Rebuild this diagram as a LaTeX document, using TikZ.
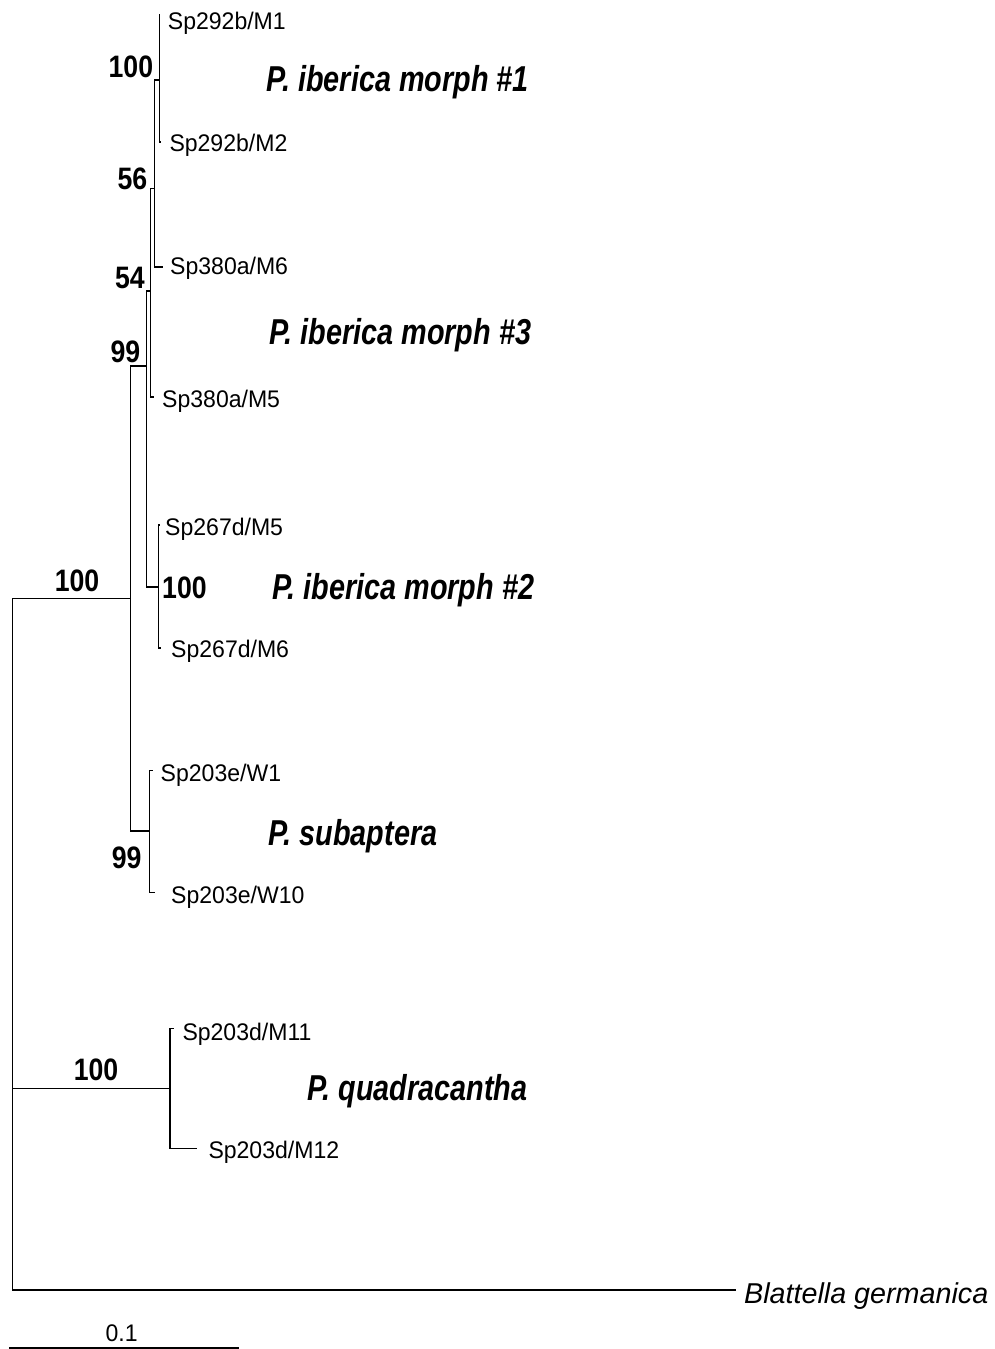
\documentclass[tikz,border=0pt]{standalone}
\usepackage{fontspec}
\setmainfont{Liberation Sans}
\newfontfamily\tipf{Liberation Sans}[FakeStretch=0.96]
\newfontfamily\bsf{Liberation Sans}[FakeStretch=0.86]
\newfontfamily\cladef{Liberation Sans}[FakeStretch=0.8]
\newfontfamily\outf{Liberation Sans}
\tikzset{
  tiplab/.style={anchor=base west, inner sep=0pt, font=\tipf\fontsize{24}{28}\selectfont},
  bootlab/.style={inner sep=0pt, font=\bsf\bfseries\fontsize{31}{36}\selectfont},
  cladelab/.style={anchor=base west, inner sep=0pt, font=\cladef\bfseries\itshape\fontsize{36}{42}\selectfont},
  branch/.style={line width=1.5pt, line join=miter}
}
\begin{document}
\begin{tikzpicture}[x=1pt,y=-1pt]
\useasboundingbox (0,0) rectangle (994,1349);
% tree coordinates
\coordinate (r1) at (12.3,598.3);
\coordinate (r2) at (12.3,1088.3);
\coordinate (r3) at (12.3,1290);
\coordinate (nI) at (130.7,598.3);
\coordinate (nQ) at (170,1088.3);
\coordinate (tB) at (736,1290);
\coordinate (nA) at (146.7,366);
\coordinate (nS) at (149.3,831);
\coordinate (n54) at (150.5,291);
\coordinate (n267) at (158.3,587);
\coordinate (n56) at (154.3,188.3);
\coordinate (tM5a) at (154.3,397);
\coordinate (n100) at (159.3,80);
\coordinate (tM6a) at (162.7,267);
\coordinate (tM1) at (160.3,15);
\coordinate (tM2) at (160.7,142);
\coordinate (tM5d) at (160.3,525);
\coordinate (tM6d) at (160.7,648);
\coordinate (tW1) at (152.7,770.7);
\coordinate (tW10) at (155,892.7);
\coordinate (tM11) at (174,1028.3);
\coordinate (tM12) at (196.7,1148.3);
% branches
\draw[branch] (r1) -- (nI);
\draw[branch] (r1) -- (r3) -- (tB);
\draw[branch] (r2) -- (nQ);
\draw[branch] (nI) |- (nA);
\draw[branch] (nI) |- (nS);
\draw[branch] (nA) |- (n54);
\draw[branch] (nA) |- (n267);
\draw[branch] (n54) |- (n56);
\draw[branch] (n54) |- (tM5a);
\draw[branch] (n56) |- (n100);
\draw[branch] (n56) |- (tM6a);
\draw[branch] (n100) |- (tM1);
\draw[branch] (n100) |- (tM2);
\draw[branch] (n267) |- (tM5d);
\draw[branch] (n267) |- (tM6d);
\draw[branch] (nS) |- (tW1);
\draw[branch] (nS) |- (tW10);
\draw[branch] (nQ) |- (tM11);
\draw[branch] (nQ) |- (tM12);
% tip labels
\node[tiplab] (l1) at (167.7,29.5) {Sp292b/M1};
\node[tiplab] (l2) at (169.3,151.5) {Sp292b/M2};
\node[tiplab] (l3) at (170,274) {Sp380a/M6};
\node[tiplab] (l4) at (162,407.5) {Sp380a/M5};
\node[tiplab] (l5) at (165,535.5) {Sp267d/M5};
\node[tiplab] (l6) at (171,657.5) {Sp267d/M6};
\node[tiplab] (l7) at (160.5,781.5) {Sp203e/W1};
\node[tiplab] (l8) at (171,903.5) {Sp203e/W10};
\node[tiplab] (l9) at (182.3,1040) {Sp203d/M11};
\node[tiplab] (l10) at (208.3,1158) {Sp203d/M12};
\node[anchor=base west, inner sep=0pt, font=\outf\itshape\fontsize{28.7}{34}\selectfont] (lB) at (744,1303) {Blattella germanica};
% bootstrap values
\node[bootlab, anchor=base east] (b1) at (153.3,77.3) {100};
\node[bootlab, anchor=base east] (b2) at (147.5,189) {56};
\node[bootlab, anchor=base east] (b3) at (145,288.5) {54};
\node[bootlab, anchor=base east] (b4) at (140.5,362) {99};
\node[bootlab, anchor=base west] (b5) at (162,598) {100};
\node[bootlab, anchor=base east] (b6) at (141.7,868) {99};
\node[bootlab, anchor=base] (b7) at (77,591) {100};
\node[bootlab, anchor=base] (b8) at (96,1080) {100};
% clade labels
\node[cladelab] (c1) at (266.7,91.7) {P. iberica morph \#1};
\node[cladelab] (c3) at (269,344) {P. iberica morph \#3};
\node[cladelab] (c2) at (272,599) {P. iberica morph \#2};
\node[cladelab] (c4) at (268,845) {P. subaptera};
\node[cladelab] (c5) at (307,1100) {P. quadracantha};
% scale bar
\coordinate (s1) at (9.3,1348);
\coordinate (s2) at (239.3,1348);
\draw[branch] (s1) -- (s2);
\node[tiplab, anchor=base] (sl) at (121.7,1341.7) {0.1};
\end{tikzpicture}
\end{document}
